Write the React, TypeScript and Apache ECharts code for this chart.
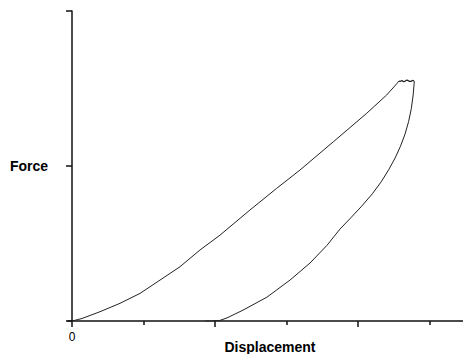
import React, { useEffect, useRef } from "react";
import * as echarts from "echarts";

// Loading branch (displacement, force)
const loadingX = [0, 14.0, 39.2, 67.1, 95.1, 123.1, 151.0, 179.0, 207.0, 248.9, 286.3, 318.9, 365.5, 412.2, 440.1, 454.1, 457.3];
const loadingY = [0, 0.8, 3.0, 5.7, 8.9, 13.2, 17.5, 22.9, 27.7, 35.8, 42.8, 48.7, 57.8, 67.0, 72.9, 76.5, 77.4];
// Hold at peak
const holdX = [457.3, 459.5, 461.5, 463.6, 465.7, 467.8, 469.9, 472.0, 474.1, 476.2, 478.3];
const holdY = [77.4, 77.3, 77.6, 77.2, 77.3, 77.7, 77.6, 77.3, 77.3, 77.6, 77.5];
// Unloading branch
const unloadingX = [478.3, 478.7, 477.2, 474.6, 470.8, 465.7, 459.5, 452.0, 443.0, 432.5, 420.0, 405.0, 390.0, 375.0, 356.6, 332.9, 304.9, 272.7, 239.2, 216.8, 207.0, 195.8, 186.0];
const unloadingY = [77.5, 77.1, 72.9, 68.5, 64.3, 60.2, 56.4, 52.6, 48.8, 44.9, 41.0, 37.0, 33.3, 29.7, 24.4, 18.7, 13.2, 7.7, 3.5, 1.0, 0.2, 0, 0];

const xLabelValues = [0];
const xMajorTicks = [0, 200, 400];
const xMinorTicks = [100, 300, 500];

const zip = (xs: number[], ys: number[]) => xs.map((x, i) => [x, ys[i]]);

export default function App() {
  const ref = useRef<HTMLDivElement>(null);
  useEffect(() => {
    if (!ref.current) return;
    const chart = echarts.init(ref.current, undefined, { renderer: "svg" });
    const lineColor = "#111";
    const font = "'Liberation Sans', Arial, sans-serif";
    chart.setOption({
      animation: false,
      backgroundColor: "#fff",
      grid: { left: 68, top: 11, width: 395, height: 310, containLabel: false, outerBoundsMode: "none" },
      xAxis: [
        {
          type: "value",
          min: -5.6,
          max: 546.9,
          name: "Displacement",
          nameLocation: "middle",
          nameGap: 19,
          nameMoveOverlap: false,
          nameTextStyle: { fontFamily: font, fontSize: 14, fontWeight: "bold", color: "#000", padding: [0, 0, 0, 9] },
          axisLine: { show: true, lineStyle: { color: lineColor, width: 1.5 } },
          axisTick: { show: true, customValues: xMajorTicks, length: 6, lineStyle: { color: lineColor, width: 1.5 } },
          axisLabel: { show: true, customValues: xLabelValues, formatter: (v: number) => String(v), fontFamily: font, fontSize: 12, color: "#000", margin: 10 },
          splitLine: { show: false },
        },
        {
          type: "value",
          position: "bottom",
          min: -5.6,
          max: 546.9,
          axisLine: { show: false },
          axisTick: { show: true, customValues: xMinorTicks, length: 4, lineStyle: { color: lineColor, width: 1.5 } },
          axisLabel: { show: false },
          splitLine: { show: false },
        },
      ],
      yAxis: {
        type: "value",
        min: 0,
        max: 100,
        interval: 50,
        name: "Force",
        nameLocation: "middle",
        nameRotate: 0,
        nameGap: 20,
        nameMoveOverlap: false,
        nameTextStyle: { fontFamily: font, fontSize: 14, fontWeight: "bold", color: "#000", align: "right", verticalAlign: "middle" },
        axisLine: { show: true, lineStyle: { color: lineColor, width: 1.5 } },
        axisTick: { show: true, length: 6, lineStyle: { color: lineColor, width: 1.5 } },
        axisLabel: { show: false },
        splitLine: { show: false },
      },
      series: [
        {
          type: "line",
          data: zip(loadingX, loadingY),
          showSymbol: false,
          lineStyle: { color: "#222", width: 1 },
          silent: true,
        },
        {
          type: "line",
          data: zip(holdX, holdY),
          showSymbol: false,
          lineStyle: { color: "#222", width: 1.2 },
          silent: true,
        },
        {
          type: "line",
          data: zip(unloadingX, unloadingY),
          showSymbol: false,
          lineStyle: { color: "#222", width: 1 },
          silent: true,
        },
      ],
    });
    return () => chart.dispose();
  }, []);
  return <div ref={ref} style={{ position: "fixed", left: 0, top: 0, width: 463, height: 354, background: "#fff" }} />;
}
